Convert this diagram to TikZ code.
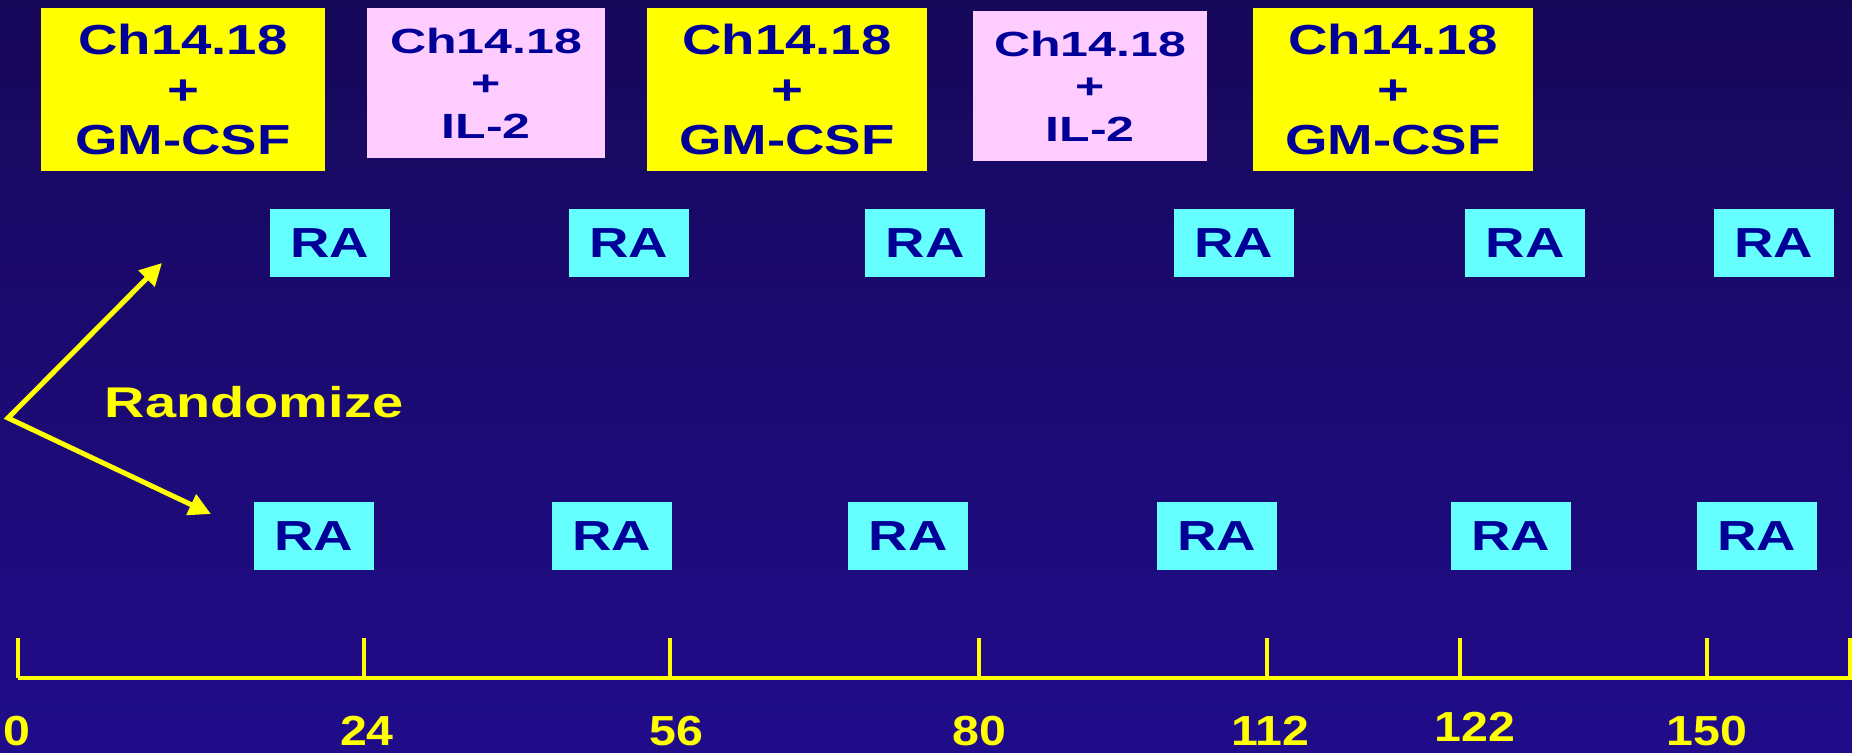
\documentclass[tikz,border=0pt]{standalone}
\usepackage{fontspec}
\setmainfont{Liberation Sans}
\newfontfamily\yfont[FakeStretch=1.3]{Liberation Sans}
\newfontfamily\pfont[FakeStretch=1.43]{Liberation Sans}
\newfontfamily\afont[FakeStretch=1.15]{Liberation Sans}
\usetikzlibrary{arrows.meta}
\definecolor{bgtop}{HTML}{160859}
\definecolor{bgbot}{HTML}{200C8A}
\definecolor{ink}{HTML}{000099}
\definecolor{yboxc}{HTML}{FFFF00}
\definecolor{pboxc}{HTML}{FFCCFF}
\definecolor{cboxc}{HTML}{66FFFF}
\definecolor{axisc}{HTML}{FFFF00}
\begin{document}
\begin{tikzpicture}[x=0.5pt,y=-0.5pt,
  ybox/.style={fill=yboxc, inner sep=0pt, align=center, text=ink,
    minimum width=140pt, minimum height=81.5pt,
    font=\yfont\bfseries\fontsize{21}{25}\selectfont},
  pbox/.style={fill=pboxc, inner sep=0pt, align=center, text=ink,
    minimum width=118pt, minimum height=75pt,
    font=\pfont\bfseries\fontsize{17.5}{21.25}\selectfont},
  rabox/.style={fill=cboxc, inner sep=0pt, text=ink,
    minimum width=60pt, minimum height=34pt,
    font=\yfont\bfseries\fontsize{21}{25}\selectfont},
  ticklab/.style={text=axisc, inner sep=0pt, anchor=base,
    font=\afont\bfseries\fontsize{21}{25}\selectfont},
  axisline/.style={draw=axisc, line width=1.6pt},
  randarrow/.style={draw=axisc, line width=2.5pt,
    {Triangle[length=11pt,width=11pt]}-{Triangle[length=11pt,width=11pt]}}
]
\useasboundingbox (0,0) rectangle (1852,752);
\shade[top color=bgtop, bottom color=bgbot] (0,0) rectangle (1852,752);

% top treatment boxes
\node[ybox, minimum width=142pt] (c1) at (183,89.5) {Ch14.18\\+\\GM-CSF};
\node[pbox, minimum width=119pt] (c2) at (486,83) {Ch14.18\\+\\IL-2};
\node[ybox] (c3) at (787,89.5) {Ch14.18\\+\\GM-CSF};
\node[pbox, minimum width=117pt] (c4) at (1090,86) {Ch14.18\\+\\IL-2};
\node[ybox] (c5) at (1393,89.5) {Ch14.18\\+\\GM-CSF};

% RA boxes, upper row
\node[rabox] (u1) at (329.5,243) {RA};
\node[rabox] (u2) at (628.5,243) {RA};
\node[rabox] (u3) at (925,243) {RA};
\node[rabox] (u4) at (1233.5,243) {RA};
\node[rabox] (u5) at (1525,243) {RA};
\node[rabox] (u6) at (1773.5,243) {RA};

% RA boxes, lower row
\node[rabox] (l1) at (314,536) {RA};
\node[rabox] (l2) at (612,536) {RA};
\node[rabox] (l3) at (908,536) {RA};
\node[rabox] (l4) at (1216.5,536) {RA};
\node[rabox] (l5) at (1510.5,536) {RA};
\node[rabox] (l6) at (1756.5,536) {RA};

% randomize arrows
\coordinate (v) at (8,418);
\coordinate (a1) at (162,263);
\coordinate (a2) at (211,514);
\draw[randarrow] (a1) -- (v) -- (a2);
\node[text=axisc, inner sep=0pt, anchor=base,
  font=\yfont\bfseries\fontsize{21.5}{25}\selectfont] (rand) at (254,417) {Randomize};

% time axis
\coordinate (x0) at (18,678);
\coordinate (xe) at (1852,678);
\draw[axisline] (x0) -- (xe);
\foreach \t/\px in {0/18,1/364,2/670,3/979,4/1267,5/1460,6/1707,7/1850}{
  \coordinate (tb\t) at (\px,678);
  \coordinate (tt\t) at (\px,638);
  \draw[axisline] (tb\t) -- (tt\t);
}
\node[ticklab] (n0) at (17,745) {0};
\node[ticklab] (n24) at (367,745) {24};
\node[ticklab] (n56) at (676,745) {56};
\node[ticklab] (n80) at (979,745) {80};
\node[ticklab] (n112) at (1270,745) {112};
\node[ticklab] (n122) at (1475,741) {122};
\node[ticklab] (n150) at (1707,745) {150};
\end{tikzpicture}
\end{document}
